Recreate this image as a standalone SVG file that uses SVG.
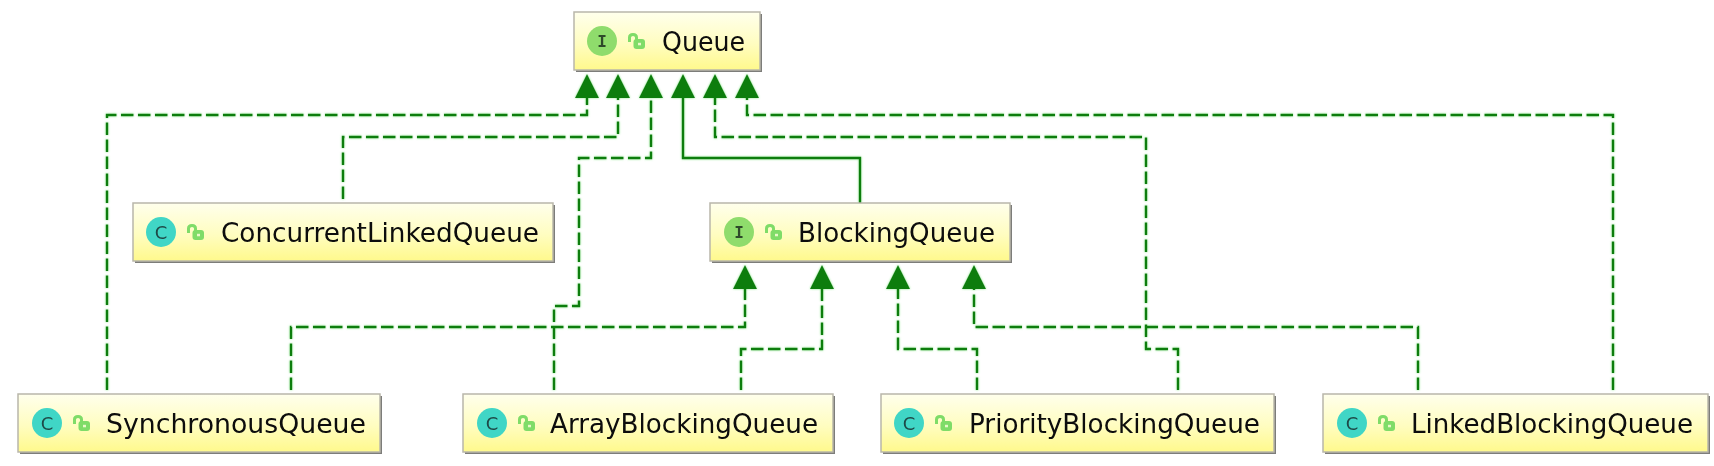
<svg xmlns="http://www.w3.org/2000/svg" xmlns:xlink="http://www.w3.org/1999/xlink" width="1714" height="466" viewBox="0 0 1714 466">
<style>
.bg{fill:#fff}
.box{fill:url(#boxfill);stroke:#b9b7aa;stroke-width:1.5}
.shadow{fill:#7d7d7a}
.lbl{font-family:"DejaVu Sans","Liberation Sans",sans-serif;font-size:26px;fill:#0a0a0a}
.ico{font-family:"DejaVu Sans","Liberation Sans",sans-serif;font-size:18px;fill:#1f4a48;text-anchor:middle}
.ii{font-family:"DejaVu Sans Mono","Liberation Mono",monospace;font-size:16px;font-weight:bold;fill:#2f4a2a;text-anchor:middle}
.c{fill:#3fd6c6}
.i{fill:#8fdc6c}
.edge{fill:none;stroke:#0b7d0b;stroke-width:2.4}
.dash{stroke-dasharray:12.5 4.5}
</style>
<defs>
<linearGradient id="boxfill" x1="0" y1="0" x2="0" y2="1">
<stop offset="0" stop-color="#ffffec"/><stop offset="0.55" stop-color="#fffdc0"/><stop offset="1" stop-color="#fff98c"/>
</linearGradient>
<marker id="tri" markerUnits="userSpaceOnUse" markerWidth="26" markerHeight="26" refX="1" refY="13" orient="auto">
<path d="M1 1L1 25L25 13Z" fill="#0b7d0b"/>
</marker>
<g id="lock">
<path d="M1.500 9V4.500Q1.500 1.500 5 1.500Q8.500 1.500 8.500 4.500V7" fill="none" stroke="#7fdc68" stroke-width="3"/>
<rect x="5.500" y="6" width="11.500" height="10" rx="3" fill="#7fdc68"/>
<rect x="10" y="9.800" width="3" height="2.500" fill="#e8f8c8"/>
</g>
<filter id="glow" filterUnits="userSpaceOnUse" x="0" y="0" width="1714" height="466">
<feDropShadow dx="0" dy="0" stdDeviation="1" flood-color="#66e066" flood-opacity="0.8"/>
</filter>
<filter id="soft"><feGaussianBlur stdDeviation="0.35"/></filter>
</defs>
<rect class="bg" width="1714" height="466"/>
<g id="connectors" filter="url(#glow)">
<path class="edge dash" marker-end="url(#tri)" d="M107 390V115H587V98"/>
<path class="edge dash" marker-end="url(#tri)" d="M343 199V137H618V98"/>
<path class="edge dash" marker-end="url(#tri)" d="M554 390V306H579V158H651V98"/>
<path class="edge" marker-end="url(#tri)" d="M860 203V158H683V98"/>
<path class="edge dash" marker-end="url(#tri)" d="M1178 390V349H1146V137H715V98"/>
<path class="edge dash" marker-end="url(#tri)" d="M1613 390V115H747V98"/>
<path class="edge dash" marker-end="url(#tri)" d="M291 390V327H745V289"/>
<path class="edge dash" marker-end="url(#tri)" d="M741 390V349H822V289"/>
<path class="edge dash" marker-end="url(#tri)" d="M977 390V349H898V289"/>
<path class="edge dash" marker-end="url(#tri)" d="M1418 390V327H974V289"/>
</g>
<g id="node-queue" filter="url(#soft)">
<rect class="shadow" x="576" y="14" width="186" height="58"/>
<rect class="box" x="574" y="12" width="186" height="58"/>
<circle class="i" cx="602" cy="41" r="15"/><text class="ii" x="602" y="46.500">I</text>
<use xlink:href="#lock" href="#lock" x="628" y="33"/>
<text class="lbl" x="662" y="51" textLength="83" lengthAdjust="spacingAndGlyphs">Queue</text>
</g>
<g id="node-concurrent" filter="url(#soft)">
<rect class="shadow" x="135" y="205" width="420" height="58"/>
<rect class="box" x="133" y="203" width="420" height="58"/>
<circle class="c" cx="161" cy="232" r="15"/><text class="ico" x="161" y="238.500">C</text>
<use xlink:href="#lock" href="#lock" x="187" y="224"/>
<text class="lbl" x="221" y="242" textLength="318" lengthAdjust="spacingAndGlyphs">ConcurrentLinkedQueue</text>
</g>
<g id="node-blocking" filter="url(#soft)">
<rect class="shadow" x="712" y="205" width="300" height="58"/>
<rect class="box" x="710" y="203" width="300" height="58"/>
<circle class="i" cx="739" cy="232" r="15"/><text class="ii" x="739" y="237.500">I</text>
<use xlink:href="#lock" href="#lock" x="765" y="224"/>
<text class="lbl" x="798" y="242" textLength="197" lengthAdjust="spacingAndGlyphs">BlockingQueue</text>
</g>
<g id="node-synchronous" filter="url(#soft)">
<rect class="shadow" x="20" y="396" width="362" height="58"/>
<rect class="box" x="18" y="394" width="362" height="58"/>
<circle class="c" cx="47" cy="423" r="15"/><text class="ico" x="47" y="429.500">C</text>
<use xlink:href="#lock" href="#lock" x="73" y="415"/>
<text class="lbl" x="106" y="433" textLength="260" lengthAdjust="spacingAndGlyphs">SynchronousQueue</text>
</g>
<g id="node-array" filter="url(#soft)">
<rect class="shadow" x="465" y="396" width="370" height="58"/>
<rect class="box" x="463" y="394" width="370" height="58"/>
<circle class="c" cx="492" cy="423" r="15"/><text class="ico" x="492" y="429.500">C</text>
<use xlink:href="#lock" href="#lock" x="518" y="415"/>
<text class="lbl" x="550" y="433" textLength="268" lengthAdjust="spacingAndGlyphs">ArrayBlockingQueue</text>
</g>
<g id="node-priority" filter="url(#soft)">
<rect class="shadow" x="883" y="396" width="393" height="58"/>
<rect class="box" x="881" y="394" width="393" height="58"/>
<circle class="c" cx="909" cy="423" r="15"/><text class="ico" x="909" y="429.500">C</text>
<use xlink:href="#lock" href="#lock" x="935" y="415"/>
<text class="lbl" x="969" y="433" textLength="291" lengthAdjust="spacingAndGlyphs">PriorityBlockingQueue</text>
</g>
<g id="node-linked" filter="url(#soft)">
<rect class="shadow" x="1325" y="396" width="385" height="58"/>
<rect class="box" x="1323" y="394" width="385" height="58"/>
<circle class="c" cx="1352" cy="423" r="15"/><text class="ico" x="1352" y="429.500">C</text>
<use xlink:href="#lock" href="#lock" x="1378" y="415"/>
<text class="lbl" x="1411" y="433" textLength="282" lengthAdjust="spacingAndGlyphs">LinkedBlockingQueue</text>
</g>
</svg>
